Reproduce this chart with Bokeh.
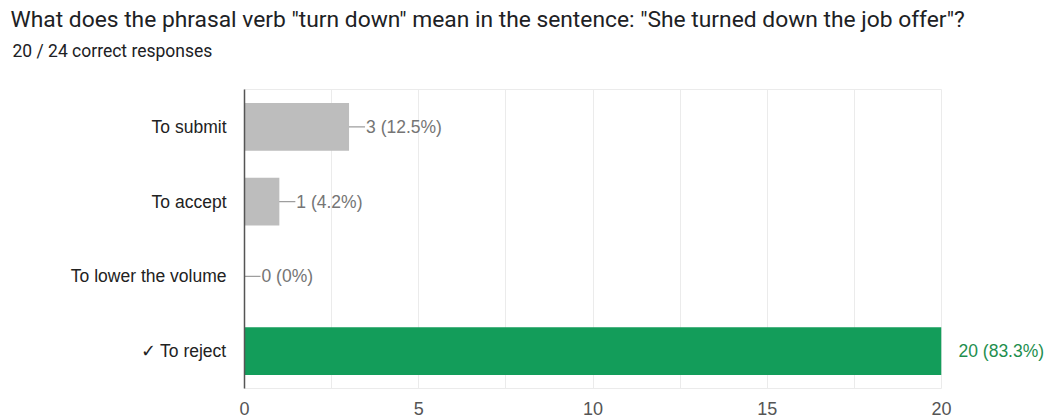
from bokeh.plotting import figure
from bokeh.models import (FactorRange, Range1d, FixedTicker, LabelSet, Title,
                          ColumnDataSource, CategoricalAxis)
from bokeh.core.properties import value
from bokeh.embed import file_html
from bokeh.resources import INLINE

title_text = 'What does the phrasal verb "turn down" mean in the sentence: "She turned down the job offer"?'
subtitle_text = "20 / 24 correct responses"
options = ["To submit", "To accept", "To lower the volume", "✓ To reject"]
counts = [3, 1, 0, 20]
percents = ["12.5%", "4.2%", "0%", "83.3%"]
correct = [False, False, False, True]
x_ticks = [0, 5, 10, 15, 20]
grid_ticks = [0, 2.5, 5, 7.5, 10, 12.5, 15, 17.5, 20]

GRAY_BAR = "#bdbdbd"
GREEN_BAR = "#139d5a"
GRAY_TEXT = "#757575"
GREEN_TEXT = "#1e8e4e"

labels = [f"{c} ({p})" for c, p in zip(counts, percents)]
src = ColumnDataSource(dict(
    opt=options, cnt=counts,
    bar_color=[GREEN_BAR if c else GRAY_BAR for c in correct],
))
wrong_src = ColumnDataSource(dict(
    opt=[o for o, c in zip(options, correct) if not c],
    cnt=[n for n, c in zip(counts, correct) if not c],
    lab=[l for l, c in zip(labels, correct) if not c],
))
# right-hand factors: the value label of the correct answer, blanks elsewhere
right_factors = [l if c else " " * (i + 1) for i, (l, c) in enumerate(zip(labels, correct))]

p = figure(width=1050, height=419,
           y_range=FactorRange(factors=options[::-1]),
           x_range=Range1d(0, 20),
           output_backend="svg", toolbar_location=None,
           min_border_left=244, min_border_right=109,
           min_border_top=89, min_border_bottom=31)
p.extra_y_ranges = {"vals": FactorRange(factors=right_factors[::-1])}
p.background_fill_color = "white"
p.border_fill_color = "white"
p.outline_line_color = "#ebebeb"

# leaders (drawn under the bars; left half hidden)
p.scatter(x="cnt", y="opt", marker="dash", size=32, line_color="#9e9e9e",
          line_width=1.2, source=wrong_src)
p.hbar(y="opt", left=0, right="cnt", height=0.64, fill_color="bar_color",
       line_color=None, source=src)

vals = LabelSet(x="cnt", y="opt", text="lab", source=wrong_src, x_offset=17,
                text_baseline="middle", text_align="left",
                text_font=value("Liberation Sans"), text_font_size=value("17.5px"),
                text_color=GRAY_TEXT)
p.add_layout(vals)

p.xgrid.ticker = FixedTicker(ticks=grid_ticks)
p.xgrid.grid_line_color = "#ebebeb"
p.ygrid.grid_line_color = None

xa = p.xaxis[0]
xa.ticker = FixedTicker(ticks=x_ticks)
xa.axis_line_color = None
xa.major_tick_line_color = None
xa.minor_tick_line_color = None
xa.major_tick_out = 0
xa.major_tick_in = 0
xa.major_label_standoff = 13
xa.major_label_text_font = "Liberation Sans"
xa.major_label_text_font_size = "18px"
xa.major_label_text_color = "#555555"

ya = p.yaxis[0]
ya.axis_line_color = "#555555"
ya.axis_line_width = 1.5
ya.major_tick_line_color = None
ya.minor_tick_line_color = None
ya.major_tick_out = 0
ya.major_tick_in = 0
ya.major_label_standoff = 18
ya.major_label_text_font = "Liberation Sans"
ya.major_label_text_font_size = "17.5px"
ya.major_label_text_color = "#222222"

ra = CategoricalAxis(y_range_name="vals")
ra.axis_line_color = None
ra.major_tick_line_color = None
ra.minor_tick_line_color = None
ra.major_tick_out = 0
ra.major_tick_in = 0
ra.major_label_standoff = 17
ra.major_label_text_font = "Liberation Sans"
ra.major_label_text_font_size = "17.5px"
ra.major_label_text_color = GREEN_TEXT
p.add_layout(ra, "right")

p.title.text = title_text
p.title.text_font = "Roboto"
p.title.text_font_size = "22.8px"
p.title.text_font_style = "normal"
p.title.text_color = "#202124"
p.title.align = "left"
p.title.offset = -234
p.title.standoff = 5

# spacing between the subtitle and the plot area
spacer = Title(text=" ", text_font_size="1px", standoff=22)
p.add_layout(spacer, "above")

sub = Title(text=subtitle_text, text_font="Roboto", text_font_size="17.5px",
            text_font_style="normal", text_color="#202124", align="left",
            offset=-232, standoff=7)
p.add_layout(sub, "above")

open("out.html", "w").write(file_html(p, INLINE))
